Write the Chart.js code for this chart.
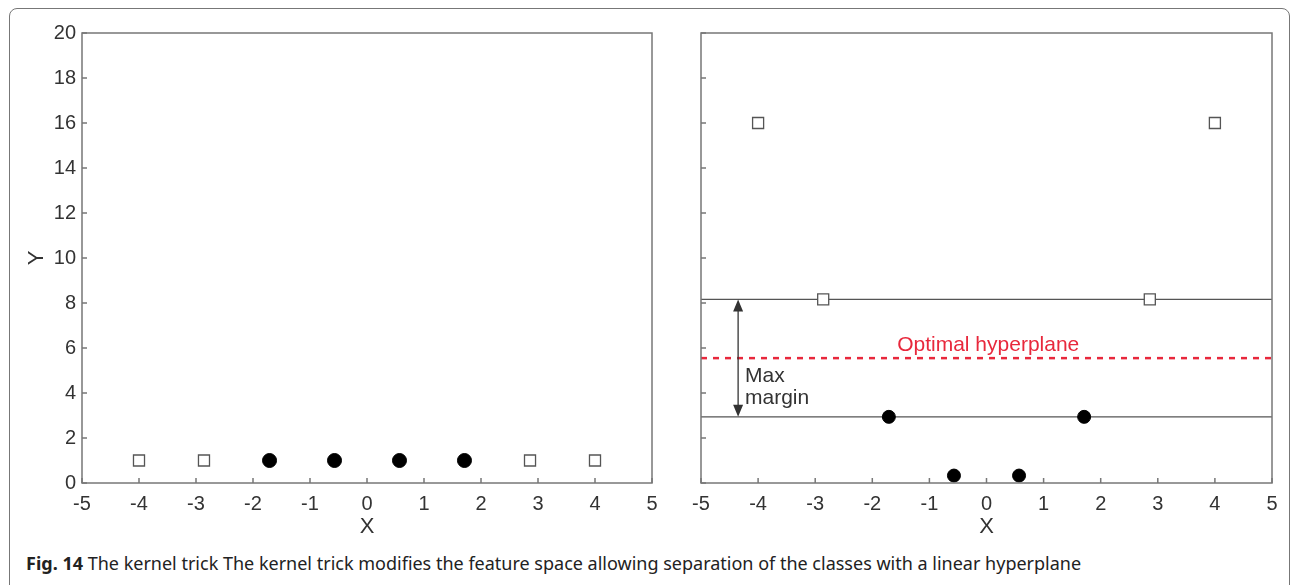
<!DOCTYPE html>
<html>
<head>
<meta charset="utf-8">
<script src="https://cdn.jsdelivr.net/npm/chart.js@4/dist/chart.umd.min.js"></script>
<style>
  body { margin: 0; background: #fff; width: 1293px; height: 585px; overflow: hidden; position: relative; }
  .frame { position: absolute; left: 9px; top: 8px; width: 1281px; height: 620px;
           border: 1.5px solid #777; border-radius: 8px 8px 0 0; box-sizing: border-box; }
  .box { position: absolute; top: 10px; height: 530px; }
  #leftBox { left: 20px; width: 650px; }
  #rightBox { left: 676px; width: 614px; }
  .caption { position: absolute; left: 26px; top: 551px; font-family: "Noto Sans", sans-serif;
             font-size: 18px; color: #222; white-space: nowrap; }
  .caption b { font-weight: 700; }
</style>
</head>
<body>
<div class="frame"></div>
<div class="box" id="leftBox"><canvas id="leftChart"></canvas></div>
<div class="box" id="rightBox"><canvas id="rightChart"></canvas></div>
<div class="caption"><b>Fig. 14</b> The kernel trick The kernel trick modifies the feature space allowing separation of the classes with a linear hyperplane</div>

<script>
// data
const squareX = [-4, -2.86, 2.86, 4];
const circleX = [-1.71, -0.57, 0.57, 1.71];
const inputY = [1, 1, 1, 1];
const squareMapped = [16, 8.16, 8.16, 16];
const circleMapped = [2.94, 0.33, 0.33, 2.94];
const upperMargin = 8.16;
const lowerMargin = 2.94;
const hyperplane = 5.55;
const lineX = [-5, 5];
const arrowX = -4.35;

const axisFont = { family: 'Liberation Sans', size: 20 };
const titleFont = { family: 'Liberation Sans', size: 22 };
const ink = '#333';
const frameColor = '#777';

Chart.defaults.animation = false;
Chart.defaults.plugins.legend.display = false;
Chart.defaults.plugins.tooltip.enabled = false;

function pts (xs, ys) {
    return xs.map((x, i) => ({ x: x, y: ys[i] }));
}

// box round the plot area, with the ticks turned inward
const boxPlugin = {
    id: 'box',
    afterDatasetsDraw (chart) {
        let ctx = chart.ctx;
        let a = chart.chartArea;
        let xs = chart.scales.x, ys = chart.scales.y;
        ctx.save();
        ctx.strokeStyle = frameColor;
        ctx.lineWidth = 1.5;
        ctx.strokeRect(a.left, a.top, a.right - a.left, a.bottom - a.top);
        ctx.beginPath();
        xs.ticks.forEach(t => {
            let px = xs.getPixelForValue(t.value);
            ctx.moveTo(px, a.bottom);
            ctx.lineTo(px, a.bottom - 5);
        });
        ys.ticks.forEach(t => {
            let py = ys.getPixelForValue(t.value);
            ctx.moveTo(a.left, py);
            ctx.lineTo(a.left + 5, py);
        });
        ctx.stroke();
        ctx.restore();
    }
};

function scales (yLabels, yWidth) {
    return {
        x: {
            type: 'linear', min: -5, max: 5,
            ticks: { stepSize: 1, color: ink, font: axisFont, padding: 9, maxRotation: 0 },
            grid: { display: false, drawTicks: false, tickLength: 0 },
            border: { display: false },
            title: { display: true, text: 'X', color: ink, font: titleFont, padding: 0 },
            afterFit: s => { s.height = 57; }
        },
        y: {
            type: 'linear', min: 0, max: 20,
            ticks: { stepSize: 2, display: yLabels, color: ink, font: axisFont, padding: 6 },
            grid: { display: false, drawTicks: false, tickLength: 0 },
            border: { display: false },
            title: { display: yLabels, text: 'Y', color: ink, font: titleFont, padding: { top: 4 } },
            afterFit: s => { s.width = yWidth; }
        }
    };
}

const squareStyle = {
    pointStyle: 'rect', pointRadius: 7.8, pointBackgroundColor: '#fff',
    pointBorderColor: '#555', pointBorderWidth: 1.3, showLine: false, order: 0
};

new Chart(document.getElementById('leftChart'), {
    type: 'scatter',
    data: {
        datasets: [
            Object.assign({ data: pts(squareX, inputY) }, squareStyle),
            { data: pts(circleX, inputY), pointRadius: 7, pointBackgroundColor: '#000', pointBorderColor: '#000', order: 0 }
        ]
    },
    options: {
        responsive: true, maintainAspectRatio: false,
        layout: { padding: { top: 23, right: 18, bottom: 0, left: 0 } },
        scales: scales(true, 62)
    },
    plugins: [boxPlugin]
});

// arrow and notes on the right panel
const notesPlugin = {
    id: 'notes',
    afterDatasetsDraw (chart) {
        let ctx = chart.ctx;
        let xs = chart.scales.x, ys = chart.scales.y;
        let ax = xs.getPixelForValue(arrowX);
        let top = ys.getPixelForValue(upperMargin);
        let bot = ys.getPixelForValue(lowerMargin);
        ctx.save();
        ctx.strokeStyle = '#333';
        ctx.fillStyle = '#333';
        ctx.lineWidth = 1.3;
        ctx.beginPath();
        ctx.moveTo(ax, top + 8);
        ctx.lineTo(ax, bot - 8);
        ctx.stroke();
        ctx.beginPath();
        ctx.moveTo(ax, top); ctx.lineTo(ax - 5, top + 12); ctx.lineTo(ax + 5, top + 12); ctx.closePath();
        ctx.moveTo(ax, bot); ctx.lineTo(ax - 5, bot - 12); ctx.lineTo(ax + 5, bot - 12); ctx.closePath();
        ctx.fill();

        ctx.font = '21px "Liberation Sans"';
        ctx.textBaseline = 'middle';
        ctx.textAlign = 'left';
        ctx.fillText('Max', xs.getPixelForValue(-4.23), ys.getPixelForValue(4.76));
        ctx.fillText('margin', xs.getPixelForValue(-4.23), ys.getPixelForValue(3.78));

        ctx.fillStyle = '#e8283c';
        ctx.textAlign = 'center';
        ctx.fillText('Optimal hyperplane', xs.getPixelForValue(0.03), ys.getPixelForValue(6.13));
        ctx.restore();
    }
};

new Chart(document.getElementById('rightChart'), {
    type: 'scatter',
    data: {
        datasets: [
            Object.assign({ data: pts(squareX, squareMapped) }, squareStyle),
            { data: pts(circleX, circleMapped), pointRadius: 6.5, pointBackgroundColor: '#000', pointBorderColor: '#000', order: 0 },
            { data: pts(lineX, [upperMargin, upperMargin]), showLine: true, pointRadius: 0, borderColor: '#555', borderWidth: 1.3, order: 2 },
            { data: pts(lineX, [lowerMargin, lowerMargin]), showLine: true, pointRadius: 0, borderColor: '#555', borderWidth: 1.3, order: 2 },
            { data: pts(lineX, [hyperplane, hyperplane]), showLine: true, pointRadius: 0, borderColor: '#e8283c', borderWidth: 2.5, borderDash: [6, 6], order: 1 }
        ]
    },
    options: {
        responsive: true, maintainAspectRatio: false,
        layout: { padding: { top: 23, right: 18, bottom: 0, left: 0 } },
        scales: scales(false, 25)
    },
    plugins: [boxPlugin, notesPlugin]
});
</script>
</body>
</html>
